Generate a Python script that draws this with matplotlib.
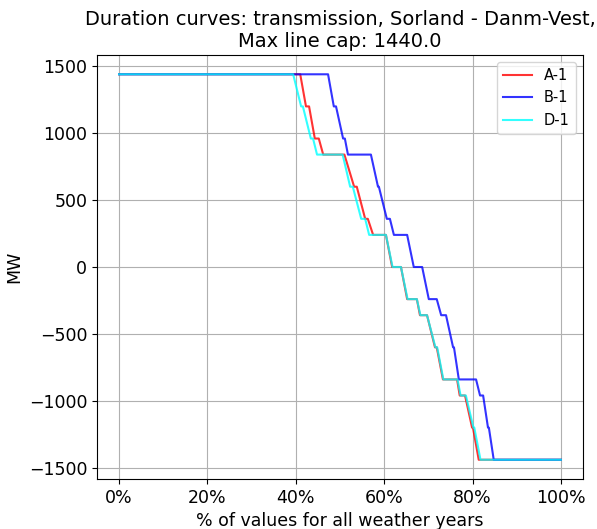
import matplotlib.pyplot as plt
from matplotlib.ticker import PercentFormatter

# corner points of the duration curves (% of values, MW)
a1_pct = [0, 41.0, 42.3, 43.0, 44.3, 45.2, 46.2, 51.0, 53.2, 53.8, 55.7, 56.3, 57.5,
          60.4, 61.8, 63.8, 65.2, 67.4, 68.1, 69.7, 71.5, 71.9, 73.3, 76.5, 77.1,
          78.3, 79.9, 80.1, 81.4, 100]
a1_mw = [1440, 1440, 1200, 1200, 960, 960, 840, 840, 600, 600, 360, 360, 240,
         240, 0, 0, -240, -240, -360, -360, -600, -600, -840, -840, -960,
         -960, -1200, -1200, -1440, -1440]

b1_pct = [0, 47.3, 48.6, 49.1, 50.7, 51.1, 51.8, 57.0, 58.6, 58.8, 60.6, 61.3, 62.2,
          65.2, 66.7, 68.6, 70.1, 71.9, 72.9, 74.0, 75.6, 75.8, 76.9, 80.8, 81.7,
          82.4, 83.5, 83.7, 84.8, 100]
b1_mw = a1_mw

d1_pct = [0, 39.4, 41.2, 41.6, 43.4, 43.9, 44.8, 50.6, 52.3, 52.9, 54.8, 55.7, 56.6,
          60.4, 61.9, 63.8, 65.3, 67.4, 68.2, 69.7, 71.6, 72.0, 73.4, 76.6, 77.3,
          78.5, 80.2, 80.4, 81.8, 100]
d1_mw = a1_mw

fig, ax = plt.subplots(figsize=(5.97, 5.29), dpi=100)
fig.subplots_adjust(left=0.1625, right=0.9765, bottom=0.0945, top=0.896)

ax.plot(a1_pct, a1_mw, color='red', alpha=0.8, lw=1.5, label='A-1')
ax.plot(b1_pct, b1_mw, color='blue', alpha=0.8, lw=1.5, label='B-1')
ax.plot(d1_pct, d1_mw, color='cyan', alpha=0.8, lw=1.5, label='D-1')

ax.xaxis.set_major_formatter(PercentFormatter(100, decimals=0))
ax.set_xticks([0, 20, 40, 60, 80, 100])
ax.set_yticks([-1500, -1000, -500, 0, 500, 1000, 1500])
ax.tick_params(labelsize=12.5)
ax.grid(True)
ax.set_xlabel('% of values for all weather years', fontsize=12.5)
ax.set_ylabel('MW', fontsize=12.5)
ax.set_title('Duration curves: transmission, Sorland - Danm-Vest,\nMax line cap: 1440.0',
             fontsize=14)
ax.legend(loc='upper right', fontsize=10.5)

fig.savefig('out.png')
